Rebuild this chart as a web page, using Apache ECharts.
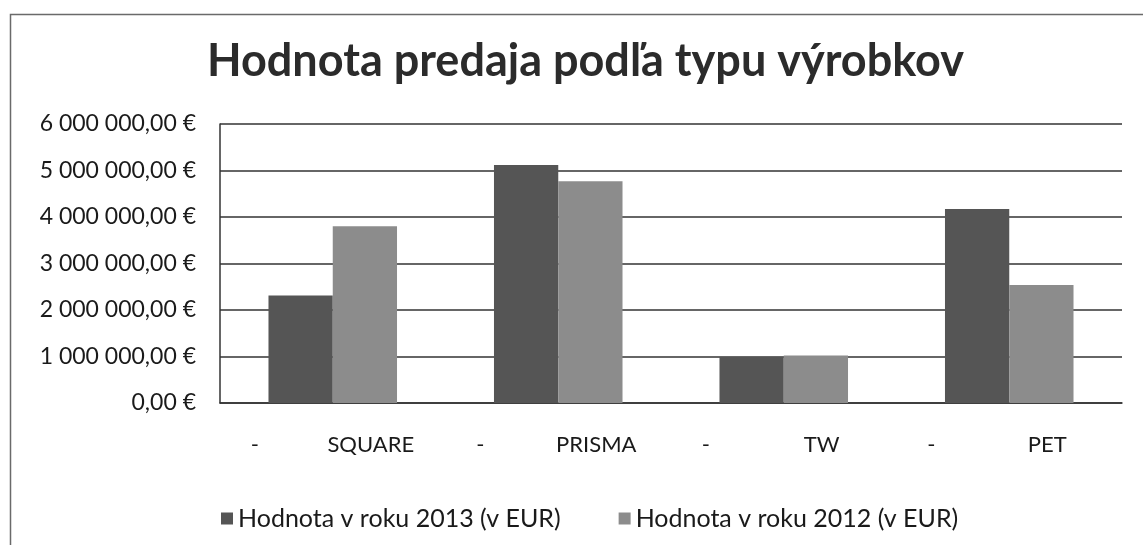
<!DOCTYPE html>
<html>
<head>
<meta charset="utf-8">
<script src="https://cdn.jsdelivr.net/npm/echarts@6/dist/echarts.min.js"></script>
<style>
  html, body { margin: 0; padding: 0; background: #fff; }
  #chart { width: 1143px; height: 545px; }
</style>
</head>
<body>
<div id="chart"></div>
<script>
// kategórie a hodnoty (odčítané z grafu)
const categories = ['SQUARE', 'PRISMA', 'TW', 'PET'];
const values2013 = [2310000, 5120000, 990000, 4170000];
const values2012 = [3800000, 4770000, 1020000, 2540000];
const seriesNames = ['Hodnota v roku 2013 (v EUR)', 'Hodnota v roku 2012 (v EUR)'];
const yTicks = { min: 0, max: 6000000, step: 1000000 };

const font = 'Lato, "Open Sans", sans-serif';

// 6000000 -> "6 000 000,00 €"
function formatEur(v) {
    const s = String(Math.round(v)).replace(/\B(?=(\d{3})+(?!\d))/g, ' ');
    return s + ',00 €';
}

const chart = echarts.init(document.getElementById('chart'));

const option = {
    backgroundColor: '#fff',
    animation: false,
    title: {
        text: 'Hodnota predaja podľa typu výrobkov',
        left: 202,
        top: 34,
        textStyle: { fontFamily: font, fontWeight: 'bold', fontSize: 45, color: '#2b2b2b' }
    },
    // rám okolo grafu
    graphic: [{
        type: 'rect',
        shape: { x: 10.5, y: 14.5, width: 1300, height: 700 },
        style: { fill: 'none', stroke: '#6a6a6a', lineWidth: 1.5 },
        silent: true
    }],
    legend: {
        data: seriesNames,
        left: 216,
        top: 501,
        icon: 'rect',
        itemWidth: 12,
        itemHeight: 12,
        itemGap: 58,
        textStyle: { fontFamily: font, fontSize: 25, color: '#1a1a1a' }
    },
    grid: { left: 220, right: 21, top: 124, bottom: 142 },
    xAxis: {
        type: 'category',
        data: categories,
        axisTick: { show: false },
        axisLine: { lineStyle: { color: '#333', width: 1.5 } },
        axisLabel: {
            margin: 31,
            interval: 0,
            fontFamily: font,
            fontSize: 22,
            color: '#1a1a1a',
            formatter: (v) => '{d|-}{s| }{n|' + v + '}',
            rich: {
                d: { width: 10, align: 'center', fontFamily: font, fontSize: 22, color: '#1a1a1a' },
                s: { width: 66, fontFamily: font, fontSize: 22 },
                n: { width: 90, align: 'center', fontFamily: font, fontSize: 22, color: '#1a1a1a' }
            }
        }
    },
    yAxis: {
        type: 'value',
        min: yTicks.min,
        max: yTicks.max,
        interval: yTicks.step,
        axisLine: { show: true, lineStyle: { color: '#333', width: 1.5 } },
        splitLine: { lineStyle: { color: '#333', width: 1.5 } },
        axisLabel: {
            margin: 24,
            fontFamily: font,
            fontSize: 23,
            color: '#1a1a1a',
            formatter: formatEur
        }
    },
    series: [
        {
            name: seriesNames[0],
            type: 'bar',
            data: values2013,
            barGap: '0%',
            barCategoryGap: '43%',
            itemStyle: { color: '#555555' }
        },
        {
            name: seriesNames[1],
            type: 'bar',
            data: values2012,
            itemStyle: { color: '#8c8c8c' }
        }
    ]
};

chart.setOption(option);
</script>
</body>
</html>
